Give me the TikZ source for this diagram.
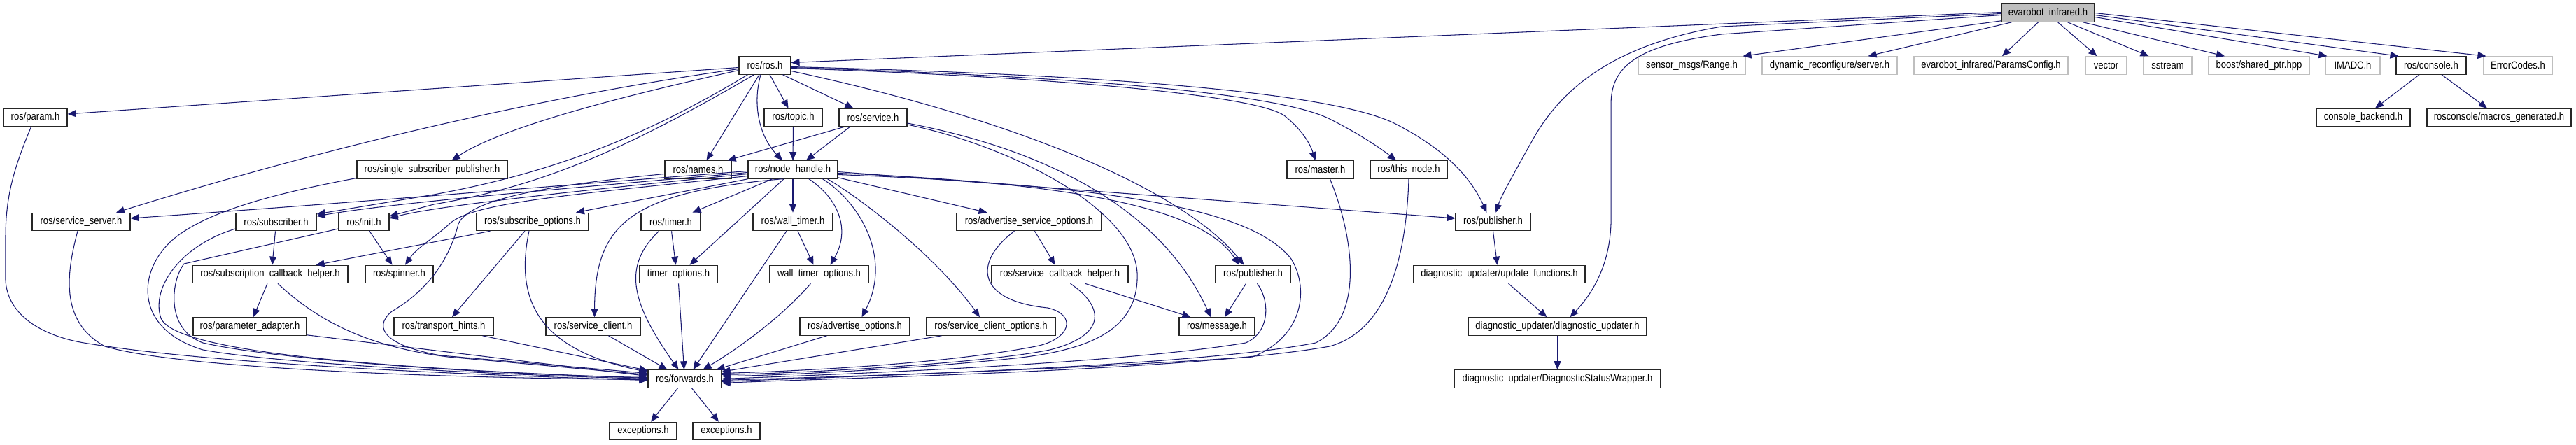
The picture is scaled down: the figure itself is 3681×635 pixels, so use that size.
\documentclass[tikz,border=0pt]{standalone}
\usepackage{fontspec}
\newfontfamily\dxfont{Liberation Sans}[FakeStretch=0.87]
\usetikzlibrary{arrows.meta,calc}
\definecolor{mblue}{HTML}{191970}
\definecolor{ngray}{HTML}{BFBFBF}
\begin{document}
\begin{tikzpicture}[x=1pt,y=-1pt,
  box/.style={draw=black!85, line width=1.1pt, fill=white, inner sep=0pt, minimum height=25.5pt, font=\dxfont\fontsize{15}{15}\selectfont, anchor=center},
  ext/.style={box, draw=ngray},
  cur/.style={box, fill=ngray},
  dep/.style={draw=mblue, line width=1.05pt, -{Triangle[length=12pt,width=10pt]}}
]
\useasboundingbox (0,0) rectangle (3681,635);
% row 0
\node[cur, minimum width=133pt] (E) at (2926.5,18.5) {evarobot\_infrared.h};
% row 1
\node[box, minimum width=74pt] (R) at (1093,93.5) {ros/ros.h};
\node[ext, minimum width=153pt] (range) at (2417.5,93.5) {sensor\_msgs/Range.h};
\node[ext, minimum width=193pt] (dyn) at (2614.5,93.5) {dynamic\_reconfigure/server.h};
\node[ext, minimum width=220pt] (pcfg) at (2845,93.5) {evarobot\_infrared/ParamsConfig.h};
\node[ext, minimum width=59pt] (vec) at (3009.5,93.5) {vector};
\node[ext, minimum width=69pt] (sst) at (3097.5,93.5) {sstream};
\node[ext, minimum width=144pt] (shp) at (3228,93.5) {boost/shared\_ptr.hpp};
\node[ext, minimum width=78pt] (imadc) at (3362,93.5) {IMADC.h};
\node[box, minimum width=100pt] (cons) at (3474,93.5) {ros/console.h};
\node[ext, minimum width=98pt] (err) at (3598,93.5) {ErrorCodes.h};
% row 2
\node[box, minimum width=91pt] (param) at (50.5,168) {ros/param.h};
\node[box, minimum width=83pt] (topic) at (1133.5,168) {ros/topic.h};
\node[box, minimum width=97pt] (svc) at (1247.5,168) {ros/service.h};
\node[box, minimum width=134pt] (cback) at (3377,168) {console\_backend.h};
\node[box, minimum width=206pt] (macg) at (3571,168) {rosconsole/macros\_generated.h};
% row 3
\node[box, minimum width=215pt] (ssp) at (617.5,242.5) {ros/single\_subscriber\_publisher.h};
\node[box, minimum width=95pt] (names) at (997.5,242.5) {ros/names.h};
\node[box, minimum width=128pt] (nh) at (1133,242.5) {ros/node\_handle.h};
\node[box, minimum width=95pt] (master) at (1886.5,242.5) {ros/master.h};
\node[box, minimum width=110pt] (thisn) at (2013,242.5) {ros/this\_node.h};
% row 4
\node[box, minimum width=140pt] (ssrv) at (116,317) {ros/service\_server.h};
\node[box, minimum width=115pt] (sub) at (394.5,317) {ros/subscriber.h};
\node[box, minimum width=72pt] (init) at (520,317) {ros/init.h};
\node[box, minimum width=160pt] (subo) at (761,317) {ros/subscribe\_options.h};
\node[box, minimum width=85pt] (timer) at (958.5,317) {ros/timer.h};
\node[box, minimum width=114pt] (wtimer) at (1133,317) {ros/wall\_timer.h};
\node[box, minimum width=207pt] (aso) at (1470.5,317) {ros/advertise\_service\_options.h};
\node[box, minimum width=107pt] (pubU) at (2133.5,317) {ros/publisher.h};
% row 5
\node[box, minimum width=222pt] (scbh) at (386,392) {ros/subscription\_callback\_helper.h};
\node[box, minimum width=97pt] (spin) at (570.5,392) {ros/spinner.h};
\node[box, minimum width=111pt] (topt) at (969.5,392) {timer\_options.h};
\node[box, minimum width=141pt] (wtopt) at (1170.5,392) {wall\_timer\_options.h};
\node[box, minimum width=195pt] (svcb) at (1514.5,392) {ros/service\_callback\_helper.h};
\node[box, minimum width=107pt] (pubL) at (1790.5,392) {ros/publisher.h};
\node[box, minimum width=245pt] (upd) at (2142.5,392) {diagnostic\_updater/update\_functions.h};
% row 6
\node[box, minimum width=162pt] (padapt) at (357,466.5) {ros/parameter\_adapter.h};
\node[box, minimum width=142pt] (thints) at (634,466.5) {ros/transport\_hints.h};
\node[box, minimum width=135pt] (sclient) at (847.5,466.5) {ros/service\_client.h};
\node[box, minimum width=157pt] (aopt) at (1221.5,466.5) {ros/advertise\_options.h};
\node[box, minimum width=184pt] (scopt) at (1416,466.5) {ros/service\_client\_options.h};
\node[box, minimum width=108pt] (msg) at (1739,466.5) {ros/message.h};
\node[box, minimum width=255pt] (dupd) at (2225.5,466.5) {diagnostic\_updater/diagnostic\_updater.h};
% row 7
\node[box, minimum width=105pt] (fw) at (978.5,541.5) {ros/forwards.h};
\node[box, minimum width=295pt] (dsw) at (2225.5,541.5) {diagnostic\_updater/DiagnosticStatusWrapper.h};
% row 8
\node[box, minimum width=96pt] (ex1) at (919,616) {exceptions.h};
\node[box, minimum width=96pt] (ex2) at (1038,616) {exceptions.h};

% ---- edges from evarobot_infrared.h
\draw[dep] ($(E.west)+(0,-1)$) -- ($(R.east)+(0,-4)$);
\draw[dep] ($(E.south west)+(0,-2)$) -- ($(range.north east)+(-4,0)$);
\draw[dep] ($(E.south west)+(15,0)$) -- ($(dyn.north)+(55,0)$);
\draw[dep] ($(E.south)+(-14,0)$) -- ($(pcfg.north)+(16,0)$);
\draw[dep] ($(E.south)+(14,0)$) -- ($(vec.north)+(-13,0)$);
\draw[dep] ($(E.south)+(28,0)$) -- ($(sst.north)+(-27,0)$);
\draw[dep] ($(E.south east)+(-17,0)$) -- ($(shp.north)+(-49,0)$);
\draw[dep] ($(E.east)+(0,6)$) -- ($(imadc.north west)+(3,0)$);
\draw[dep] ($(E.east)+(0,3)$) -- ($(cons.north west)+(4,0)$);
\draw[dep] ($(E.east)+(0,0)$) -- ($(err.north west)+(4,0)$);
\draw[dep] ($(E.west)+(0,1)$) -- (2460,38) .. controls (2330,60) and (2240,110) .. (2190,200) .. controls (2165,245) and (2145,280) .. ($(pubU.north)+(4,0)$);
\draw[dep] ($(E.west)+(0,3)$) -- (2460,49) .. controls (2330,66) and (2302,100) .. (2302,150) -- (2302,320) .. controls (2300,380) and (2275,420) .. ($(dupd.north)+(18,0)$);
\draw[dep] ($(cons.south)+(-17,0)$) -- ($(cback.north)+(17,0)$);
\draw[dep] ($(cons.south)+(15,0)$) -- ($(macg.north)+(-17,0)$);

% ---- edges from ros/ros.h
\draw[dep] ($(R.west)+(0,3)$) -- ($(param.east)+(0,-5)$);
\draw[dep] ($(R.west)+(0,5)$) .. controls (760,140) and (450,215) .. ($(ssrv.north)+(50,0)$);
\draw[dep] ($(R.west)+(0,7)$) .. controls (900,135) and (720,180) .. ($(ssp.north)+(28,0)$);
\draw[dep] ($(R.south west)+(13,0)$) .. controls (930,190) and (800,245) .. (620,278) -- ($(sub.east)+(0,-11)$);
\draw[dep] ($(R.south west)+(22,0)$) .. controls (900,210) and (780,265) .. (620,292) -- ($(init.east)+(0,-8)$);
\draw[dep] ($(R.south)+(-8,0)$) -- ($(names.north)+(12,0)$);
\draw[dep] ($(R.south)+(-6,0)$) .. controls (1075,150) and (1085,195) .. ($(nh.north)+(-15,0)$);
\draw[dep] ($(R.south)+(7,0)$) -- ($(topic.north)+(-7,0)$);
\draw[dep] ($(R.south east)+(-12,0)$) -- ($(svc.north)+(-28,0)$);
\draw[dep] ($(R.east)+(0,4)$) .. controls (1500,110) and (1790,135) .. (1835,165) .. controls (1860,185) and (1872,205) .. ($(master.north)+(-7,0)$);
\draw[dep] ($(R.east)+(0,3)$) .. controls (1500,108) and (1820,130) .. (1900,170) .. controls (1940,190) and (1970,210) .. ($(thisn.north)+(-18,0)$);
\draw[dep] ($(R.east)+(0,2)$) .. controls (1500,105) and (1880,125) .. (1990,175) .. controls (2060,210) and (2100,250) .. ($(pubU.north)+(-9,0)$);
\draw[dep] ($(R.east)+(0,8)$) .. controls (1450,170) and (1690,270) .. ($(pubL.north)+(-13,0)$);
\draw[dep] (topic.south) -- (nh.north);
\draw[dep] ($(svc.south west)+(8,0)$) -- ($(names.north east)+(-6,0)$);
\draw[dep] ($(svc.south west)+(16,0)$) -- ($(nh.north)+(19,0)$);
\draw[dep] ($(svc.east)+(0,8)$) .. controls (1500,215) and (1660,300) .. ($(msg.north)+(-9,0)$);
\draw[dep] ($(svc.east)+(0,10)$) .. controls (1450,210) and (1620,300) .. (1625,390) .. controls (1628,470) and (1560,500) .. (1450,512) .. controls (1300,528) and (1100,537) .. ($(fw.east)+(0,-4)$);

% ---- edges from ros/node_handle.h
\draw[dep] ($(nh.west)+(0,2)$) .. controls (800,265) and (500,290) .. ($(ssrv.east)+(0,-5)$);
\draw[dep] ($(nh.west)+(0,4)$) .. controls (800,270) and (560,290) .. ($(sub.east)+(0,-8)$);
\draw[dep] ($(nh.west)+(0,6)$) .. controls (800,275) and (620,295) .. ($(init.east)+(0,-5)$);
\draw[dep] ($(nh.west)+(0,9)$) .. controls (800,280) and (670,290) .. (640,322) .. controls (620,340) and (595,355) .. ($(spin.north)+(8.5,0)$);
\draw[dep] (nh.south west) -- ($(subo.north)+(62,0)$);
\draw[dep] ($(nh.south west)+(35,0)$) -- ($(timer.north)+(31,0)$);
\draw[dep] ($(nh.south)+(-13,0)$) -- ($(topt.north)+(16,0)$);
\draw[dep] ($(nh.south)+(-16,0)$) .. controls (900,275) and (850,320) .. ($(sclient.north)+(2,0)$);
\draw[dep] (nh.south) -- (wtimer.north);
\draw[dep] ($(nh.south)+(23,0)$) .. controls (1200,285) and (1215,330) .. ($(wtopt.north)+(16,0)$);
\draw[dep] ($(nh.south east)+(-22,0)$) .. controls (1230,290) and (1275,370) .. ($(aopt.north)+(10,0)$);
\draw[dep] ($(nh.south east)+(-15,0)$) .. controls (1240,290) and (1340,370) .. ($(scopt.north)+(-16,0)$);
\draw[dep] ($(nh.south east)+(0,-2)$) -- ($(aso.north)+(-60,0)$);
\draw[dep] ($(nh.east)+(0,3)$) -- ($(pubU.west)+(0,-5)$);
\draw[dep] ($(nh.east)+(0,5)$) .. controls (1550,262) and (1720,300) .. ($(pubL.north)+(-20,0)$);
\draw[dep] ($(nh.east)+(0,7)$) .. controls (1600,265) and (1790,300) .. (1845,370) .. controls (1870,410) and (1865,480) .. (1790,510) .. controls (1500,530) and (1200,538) .. ($(fw.east)+(0,2)$);

% ---- names
\draw[dep] ($(names.west)+(0,6)$) .. controls (780,265) and (670,285) .. (655,320) .. controls (645,360) and (620,410) .. (560,445) .. controls (530,470) and (555,495) .. (630,508) -- ($(fw.west)+(0,-8)$);

% ---- master / this_node
\draw[dep] ($(master.south)+(14,0)$) .. controls (1935,340) and (1950,455) .. (1880,490) .. controls (1700,525) and (1200,538) .. ($(fw.east)+(0,4)$);
\draw[dep] (thisn.south) .. controls (2010,350) and (1990,470) .. (1900,495) .. controls (1700,530) and (1200,540) .. ($(fw.east)+(0,6)$);

% ---- service side
\draw[dep] ($(aso.south)+(8,0)$) -- ($(svcb.north)+(-7,0)$);
\draw[dep] ($(aso.south)+(-21,0)$) .. controls (1390,375) and (1395,430) .. (1497,440) .. controls (1540,450) and (1530,485) .. (1480,495) .. controls (1350,520) and (1150,530) .. ($(fw.east)+(0,-8)$);
\draw[dep] ($(svcb.south east)+(-62,0)$) -- ($(msg.north west)+(17,0)$);
\draw[dep] ($(svcb.south)+(15,0)$) .. controls (1580,440) and (1580,480) .. (1500,500) .. controls (1400,520) and (1150,533) .. ($(fw.east)+(0,-6)$);
\draw[dep] ($(scopt.south west)+(22,0)$) -- ($(fw.north east)+(0,3)$);
\draw[dep] ($(aopt.south)+(-40,0)$) -- ($(fw.north east)+(-8,0)$);
\draw[dep] ($(pubL.south)+(-10,0)$) -- ($(msg.north)+(11,0)$);
\draw[dep] ($(pubL.south)+(6,0)$) .. controls (1815,430) and (1815,475) .. (1780,490) .. controls (1600,520) and (1200,535) .. ($(fw.east)+(0,0)$);

% ---- timers
\draw[dep] ($(wtimer.south)+(7,0)$) -- ($(wtopt.north)+(-8,0)$);
\draw[dep] ($(wtimer.south)+(-9,0)$) -- ($(fw.north)+(12,0)$);
\draw[dep] ($(wtopt.south)+(-12,0)$) .. controls (1120,450) and (1060,495) .. ($(fw.north)+(26,0)$);
\draw[dep] ($(timer.south)+(1,0)$) -- ($(topt.north)+(-4,0)$);
\draw[dep] ($(timer.south)+(-17,0)$) .. controls (890,380) and (900,430) .. ($(fw.north)+(-9,0)$);
\draw[dep] (topt.south) -- ($(fw.north)+(-1,0)$);
\draw[dep] ($(sclient.south)+(22,0)$) -- ($(fw.north)+(-25,0)$);

% ---- subscribe side
\draw[dep] ($(subo.south)+(-5,0)$) .. controls (735,430) and (770,500) .. ($(fw.west)+(0,-10)$);
\draw[dep] ($(subo.south)+(-11,0)$) -- ($(thints.north)+(12,0)$);
\draw[dep] ($(subo.south west)+(20,0)$) -- ($(scbh.north east)+(-46,0)$);
\draw[dep] ($(thints.south east)+(-16,0)$) -- ($(fw.west)+(0,-12)$);
\draw[dep] ($(sub.south)+(-1,0)$) -- ($(scbh.north)+(3,0)$);
\draw[dep] ($(scbh.south)+(-4,0)$) -- ($(padapt.north)+(5,0)$);
\draw[dep] ($(scbh.south)+(11,0)$) .. controls (450,455) and (520,495) .. (640,510) -- ($(fw.west)+(0,-6)$);
\draw[dep] ($(padapt.south east)+(0,-1)$) -- ($(fw.west)+(0,-4)$);
\draw[dep] ($(init.south)+(8,0)$) -- ($(spin.north)+(-10,0)$);
\draw[dep] ($(init.west)+(0,10)$) -- (263,377) .. controls (245,400) and (235,470) .. (290,490) .. controls (400,515) and (700,535) .. ($(fw.west)+(0,-2)$);
\draw[dep] ($(ssp.west)+(0,12)$) .. controls (400,275) and (300,300) .. (250,340) .. controls (195,385) and (190,470) .. (290,500) .. controls (400,520) and (700,535) .. ($(fw.west)+(0,0)$);
\draw[dep] ($(sub.west)+(0,10)$) .. controls (260,350) and (215,410) .. (230,455) .. controls (250,500) and (500,525) .. ($(fw.west)+(0,-1)$);
\draw[dep] ($(ssrv.south)+(-5,0)$) .. controls (95,390) and (85,460) .. (150,495) .. controls (250,525) and (600,540) .. ($(fw.west)+(0,1)$);
\draw[dep] ($(param.south)+(-6,0)$) .. controls (20,240) and (8,280) .. (8,340) -- (8,400) .. controls (10,450) and (60,480) .. (120,490) .. controls (300,520) and (650,535) .. ($(fw.west)+(0,2)$);

% ---- bottom
\draw[dep] ($(fw.south)+(-10,0)$) -- ($(ex1.north)+(11,0)$);
\draw[dep] ($(fw.south)+(10,0)$) -- ($(ex2.north)+(-11,0)$);
\draw[dep] (pubU.south) -- ($(upd.north)+(-3,0)$);
\draw[dep] ($(upd.south)+(13,0)$) -- ($(dupd.north)+(-15,0)$);
\draw[dep] (dupd.south) -- (dsw.north);
\end{tikzpicture}
\end{document}
